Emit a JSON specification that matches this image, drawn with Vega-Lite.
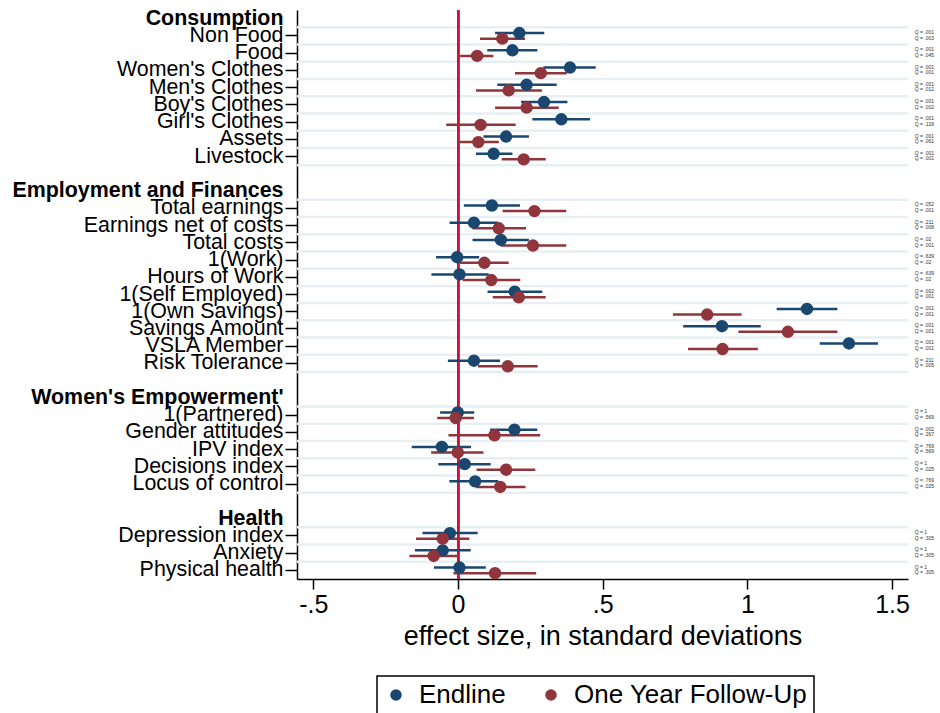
{
  "$schema": "https://vega.github.io/schema/vega-lite/v6.json",
  "autosize": {"type": "none"},
  "padding": {"left": 297, "top": 10, "right": 32, "bottom": 134},
  "width": 611,
  "height": 569,
  "config": {"font": "Liberation Sans", "view": {"stroke": null}},
  "datasets": {
    "rows": [
      {"label": "Consumption", "kind": "header"},
      {"label": "Non Food", "kind": "var"},
      {"label": "Food", "kind": "var"},
      {"label": "Women's Clothes", "kind": "var"},
      {"label": "Men's Clothes", "kind": "var"},
      {"label": "Boy's Clothes", "kind": "var"},
      {"label": "Girl's Clothes", "kind": "var"},
      {"label": "Assets\u00a0", "kind": "var"},
      {"label": "Livestock", "kind": "var"},
      {"label": " ", "kind": "blank"},
      {"label": "Employment and Finances", "kind": "header"},
      {"label": "Total earnings", "kind": "var"},
      {"label": "Earnings net of costs", "kind": "var"},
      {"label": "Total costs", "kind": "var"},
      {"label": "1(Work)", "kind": "var"},
      {"label": "Hours of Work", "kind": "var"},
      {"label": "1(Self Employed)", "kind": "var"},
      {"label": "1(Own Savings)", "kind": "var"},
      {"label": "Savings Amount", "kind": "var"},
      {"label": "VSLA Member", "kind": "var"},
      {"label": "Risk Tolerance", "kind": "var"},
      {"label": "  ", "kind": "blank"},
      {"label": "Women's Empowerment'", "kind": "header"},
      {"label": "1(Partnered)", "kind": "var"},
      {"label": "Gender attitudes", "kind": "var"},
      {"label": "IPV index", "kind": "var"},
      {"label": "Decisions index", "kind": "var"},
      {"label": "Locus of control", "kind": "var"},
      {"label": "   ", "kind": "blank"},
      {"label": "Health", "kind": "header"},
      {"label": "Depression index", "kind": "var"},
      {"label": "Anxiety", "kind": "var"},
      {"label": "Physical health", "kind": "var"}
    ],
    "est": [
      {"label": "Non Food", "series": "Endline", "b": 0.212, "lo": 0.128, "hi": 0.298, "qtext": "Q = .001"},
      {"label": "Food", "series": "Endline", "b": 0.188, "lo": 0.101, "hi": 0.274, "qtext": "Q = .001"},
      {"label": "Women's Clothes", "series": "Endline", "b": 0.387, "lo": 0.295, "hi": 0.476, "qtext": "Q = .001"},
      {"label": "Men's Clothes", "series": "Endline", "b": 0.237, "lo": 0.136, "hi": 0.341, "qtext": "Q = .001"},
      {"label": "Boy's Clothes", "series": "Endline", "b": 0.297, "lo": 0.218, "hi": 0.378, "qtext": "Q = .001"},
      {"label": "Girl's Clothes", "series": "Endline", "b": 0.357, "lo": 0.257, "hi": 0.456, "qtext": "Q = .001"},
      {"label": "Assets\u00a0", "series": "Endline", "b": 0.166, "lo": 0.088, "hi": 0.245, "qtext": "Q = .001"},
      {"label": "Livestock", "series": "Endline", "b": 0.123, "lo": 0.062, "hi": 0.188, "qtext": "Q = .001"},
      {"label": "Total earnings", "series": "Endline", "b": 0.117, "lo": 0.020, "hi": 0.214, "qtext": "Q = .052"},
      {"label": "Earnings net of costs", "series": "Endline", "b": 0.055, "lo": -0.029, "hi": 0.139, "qtext": "Q = .211"},
      {"label": "Total costs", "series": "Endline", "b": 0.148, "lo": 0.050, "hi": 0.245, "qtext": "Q = .02"},
      {"label": "1(Work)", "series": "Endline", "b": -0.003, "lo": -0.076, "hi": 0.073, "qtext": "Q = .639"},
      {"label": "Hours of Work", "series": "Endline", "b": 0.005, "lo": -0.092, "hi": 0.106, "qtext": "Q = .639"},
      {"label": "1(Self Employed)", "series": "Endline", "b": 0.196, "lo": 0.102, "hi": 0.291, "qtext": "Q = .002"},
      {"label": "1(Own Savings)", "series": "Endline", "b": 1.206, "lo": 1.101, "hi": 1.311, "qtext": "Q = .001"},
      {"label": "Savings Amount", "series": "Endline", "b": 0.912, "lo": 0.778, "hi": 1.046, "qtext": "Q = .001"},
      {"label": "VSLA Member", "series": "Endline", "b": 1.351, "lo": 1.250, "hi": 1.451, "qtext": "Q = .001"},
      {"label": "Risk Tolerance", "series": "Endline", "b": 0.055, "lo": -0.035, "hi": 0.145, "qtext": "Q = .211"},
      {"label": "1(Partnered)", "series": "Endline", "b": -0.001, "lo": -0.062, "hi": 0.056, "qtext": "Q = 1"},
      {"label": "Gender attitudes", "series": "Endline", "b": 0.195, "lo": 0.111, "hi": 0.274, "qtext": "Q = .002"},
      {"label": "IPV index", "series": "Endline", "b": -0.056, "lo": -0.160, "hi": 0.045, "qtext": "Q = .769"},
      {"label": "Decisions index", "series": "Endline", "b": 0.023, "lo": -0.068, "hi": 0.113, "qtext": "Q = 1"},
      {"label": "Locus of control", "series": "Endline", "b": 0.059, "lo": -0.030, "hi": 0.139, "qtext": "Q = .769"},
      {"label": "Depression index", "series": "Endline", "b": -0.028, "lo": -0.123, "hi": 0.068, "qtext": "Q = 1"},
      {"label": "Anxiety", "series": "Endline", "b": -0.053, "lo": -0.149, "hi": 0.044, "qtext": "Q = 1"},
      {"label": "Physical health", "series": "Endline", "b": 0.005, "lo": -0.083, "hi": 0.096, "qtext": "Q = 1"},
      {"label": "Non Food", "series": "One Year Follow-Up", "b": 0.153, "lo": 0.076, "hi": 0.232, "qtext": "Q = .003"},
      {"label": "Food", "series": "One Year Follow-Up", "b": 0.066, "lo": 0.007, "hi": 0.122, "qtext": "Q = .045"},
      {"label": "Women's Clothes", "series": "One Year Follow-Up", "b": 0.286, "lo": 0.197, "hi": 0.376, "qtext": "Q = .001"},
      {"label": "Men's Clothes", "series": "One Year Follow-Up", "b": 0.175, "lo": 0.062, "hi": 0.290, "qtext": "Q = .012"},
      {"label": "Boy's Clothes", "series": "One Year Follow-Up", "b": 0.237, "lo": 0.128, "hi": 0.348, "qtext": "Q = .002"},
      {"label": "Girl's Clothes", "series": "One Year Follow-Up", "b": 0.078, "lo": -0.041, "hi": 0.199, "qtext": "Q = .128"},
      {"label": "Assets\u00a0", "series": "One Year Follow-Up", "b": 0.070, "lo": -0.002, "hi": 0.141, "qtext": "Q = .061"},
      {"label": "Livestock", "series": "One Year Follow-Up", "b": 0.227, "lo": 0.151, "hi": 0.303, "qtext": "Q = .001"},
      {"label": "Total earnings", "series": "One Year Follow-Up", "b": 0.264, "lo": 0.154, "hi": 0.374, "qtext": "Q = .001"},
      {"label": "Earnings net of costs", "series": "One Year Follow-Up", "b": 0.141, "lo": 0.050, "hi": 0.235, "qtext": "Q = .008"},
      {"label": "Total costs", "series": "One Year Follow-Up", "b": 0.259, "lo": 0.148, "hi": 0.374, "qtext": "Q = .001"},
      {"label": "1(Work)", "series": "One Year Follow-Up", "b": 0.091, "lo": 0.007, "hi": 0.175, "qtext": "Q = .02"},
      {"label": "Hours of Work", "series": "One Year Follow-Up", "b": 0.115, "lo": 0.016, "hi": 0.215, "qtext": "Q = .02"},
      {"label": "1(Self Employed)", "series": "One Year Follow-Up", "b": 0.210, "lo": 0.120, "hi": 0.303, "qtext": "Q = .001"},
      {"label": "1(Own Savings)", "series": "One Year Follow-Up", "b": 0.861, "lo": 0.743, "hi": 0.980, "qtext": "Q = .001"},
      {"label": "Savings Amount", "series": "One Year Follow-Up", "b": 1.140, "lo": 0.969, "hi": 1.311, "qtext": "Q = .001"},
      {"label": "VSLA Member", "series": "One Year Follow-Up", "b": 0.914, "lo": 0.795, "hi": 1.036, "qtext": "Q = .001"},
      {"label": "Risk Tolerance", "series": "One Year Follow-Up", "b": 0.172, "lo": 0.069, "hi": 0.275, "qtext": "Q = .005"},
      {"label": "1(Partnered)", "series": "One Year Follow-Up", "b": -0.008, "lo": -0.072, "hi": 0.055, "qtext": "Q = .569"},
      {"label": "Gender attitudes", "series": "One Year Follow-Up", "b": 0.126, "lo": -0.033, "hi": 0.284, "qtext": "Q = .267"},
      {"label": "IPV index", "series": "One Year Follow-Up", "b": -0.001, "lo": -0.093, "hi": 0.088, "qtext": "Q = .569"},
      {"label": "Decisions index", "series": "One Year Follow-Up", "b": 0.166, "lo": 0.064, "hi": 0.267, "qtext": "Q = .025"},
      {"label": "Locus of control", "series": "One Year Follow-Up", "b": 0.146, "lo": 0.062, "hi": 0.233, "qtext": "Q = .025"},
      {"label": "Depression index", "series": "One Year Follow-Up", "b": -0.053, "lo": -0.145, "hi": 0.039, "qtext": "Q = .305"},
      {"label": "Anxiety", "series": "One Year Follow-Up", "b": -0.084, "lo": -0.168, "hi": 0.003, "qtext": "Q = .305"},
      {"label": "Physical health", "series": "One Year Follow-Up", "b": 0.128, "lo": -0.016, "hi": 0.270, "qtext": "Q = .305"}
    ]
  },
  "encoding": {
    "y": {
      "field": "label",
      "type": "nominal",
      "scale": {
        "type": "band",
        "paddingInner": 0,
        "paddingOuter": 0,
        "domain": ["Consumption", "Non Food", "Food", "Women's Clothes", "Men's Clothes", "Boy's Clothes", "Girl's Clothes", "Assets\u00a0", "Livestock", " ", "Employment and Finances", "Total earnings", "Earnings net of costs", "Total costs", "1(Work)", "Hours of Work", "1(Self Employed)", "1(Own Savings)", "Savings Amount", "VSLA Member", "Risk Tolerance", "  ", "Women's Empowerment'", "1(Partnered)", "Gender attitudes", "IPV index", "Decisions index", "Locus of control", "   ", "Health", "Depression index", "Anxiety", "Physical health"]
      },
      "axis": {
        "title": null,
        "labelFontSize": 21.4,
        "labelColor": "black",
        "labelLimit": 400,
        "labelPadding": 2,
        "labelFontWeight": {"condition": {"test": "indexof([\"Consumption\", \"Employment and Finances\", \"Women's Empowerment'\", \"Health\"], datum.value) >= 0", "value": "bold"}, "value": "normal"},
        "tickOpacity": {"condition": {"test": "indexof([\"Consumption\", \"Employment and Finances\", \"Women's Empowerment'\", \"Health\"], datum.value) >= 0 || trim(datum.value) == ''", "value": 0}, "value": 1},
        "tickSize": 12,
        "tickWidth": 1.5,
        "tickColor": "black",
        "domainColor": "black",
        "domainWidth": 1.5,
        "grid": false
      }
    }
  },
  "layer": [
    {
      "data": {"name": "rows"},
      "transform": [{"filter": "datum.kind != 'header'"}],
      "mark": {"type": "rule", "color": "#e8eff2", "strokeWidth": 2.5},
      "encoding": {
        "y": {"field": "label", "type": "nominal", "bandPosition": 0}
      }
    },
    {
      "data": {"name": "est"},
      "mark": {"type": "rule", "color": "#d0103a", "strokeWidth": 2},
      "encoding": {
        "x": {"datum": 0, "type": "quantitative"},
        "y": null
      }
    },
    {
      "data": {"name": "est"},
      "mark": {"type": "rule", "strokeWidth": 2.5},
      "encoding": {
        "x": {
          "field": "lo",
          "type": "quantitative",
          "scale": {"domain": [-0.5565, 1.555], "nice": false, "zero": false},
          "axis": {
            "title": "effect size, in standard deviations",
            "titleFontSize": 27,
            "titleFontWeight": "normal",
            "titleColor": "black",
            "titlePadding": 6,
            "values": [-0.5, 0, 0.5, 1, 1.5],
            "labelExpr": "replace(toString(datum.value), '0.', '.')",
            "labelFontSize": 25,
            "labelColor": "black",
            "labelPadding": 3,
            "tickSize": 10,
            "tickWidth": 1.5,
            "tickColor": "black",
            "domainColor": "black",
            "domainWidth": 1.5,
            "grid": false
          }
        },
        "x2": {"field": "hi"},
        "yOffset": {"field": "series", "type": "nominal", "scale": {"paddingOuter": 0.54, "paddingInner": 0}},
        "color": {"field": "series", "type": "nominal", "scale": {"domain": ["Endline", "One Year Follow-Up"], "range": ["#1a476f", "#90353b"]}}
      }
    },
    {
      "data": {"name": "est"},
      "mark": {"type": "circle", "size": 154, "opacity": 1},
      "encoding": {
        "x": {"field": "b", "type": "quantitative"},
        "yOffset": {"field": "series", "type": "nominal", "scale": {"paddingOuter": 0.54, "paddingInner": 0}},
        "color": {
          "field": "series",
          "type": "nominal",
          "scale": {"domain": ["Endline", "One Year Follow-Up"], "range": ["#1a476f", "#90353b"]},
          "legend": {
            "title": null,
            "orient": "none",
            "legendX": 80,
            "legendY": 666,
            "direction": "horizontal",
            "strokeColor": "black",
            "padding": 6,
            "symbolType": "circle",
            "symbolSize": 133,
            "symbolStrokeWidth": 0,
            "symbolOpacity": 1,
            "labelFontSize": 26,
            "labelColor": "black",
            "labelLimit": 400,
            "labelOffset": 10,
            "columnPadding": 32,
            "encode": {"legend": {"update": {"strokeWidth": {"value": 1.5}}}}
          }
        }
      }
    },
    {
      "data": {"name": "est"},
      "mark": {"type": "text", "fontSize": 5, "align": "left", "baseline": "middle", "dy": -1, "color": "#333333"},
      "encoding": {
        "x": {"datum": 1.578, "type": "quantitative"},
        "yOffset": {"field": "series", "type": "nominal", "scale": {"paddingOuter": 0.54, "paddingInner": 0}},
        "text": {"field": "qtext"}
      }
    }
  ]
}
